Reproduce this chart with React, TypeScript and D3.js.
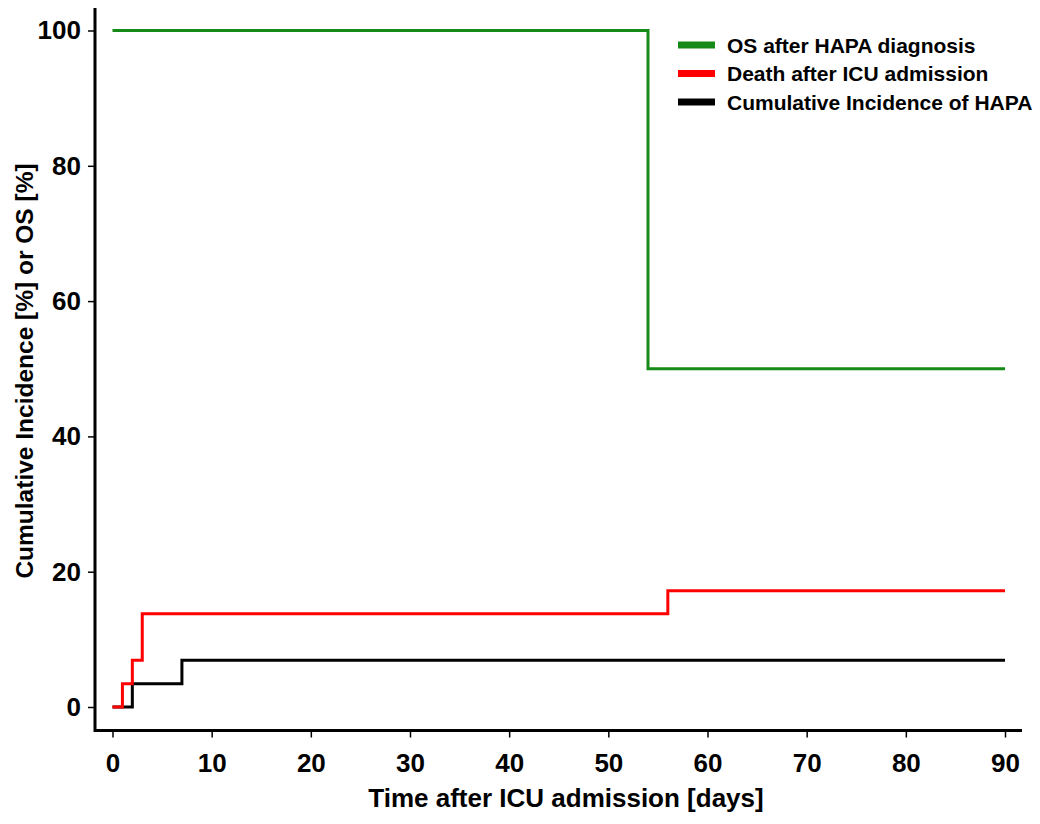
import React, { useEffect, useRef } from 'react';
import * as d3 from 'd3';

const xTicks = [0, 10, 20, 30, 40, 50, 60, 70, 80, 90];
const yTicks = [0, 20, 40, 60, 80, 100];

const osDays = [0, 54, 90];
const osValues = [100, 50, 50];
const deathDays = [0, 1, 2, 3, 56, 90];
const deathValues = [0, 3.45, 6.9, 13.8, 17.2, 17.2];
const hapaDays = [0, 2, 7, 90];
const hapaValues = [0, 3.45, 6.9, 6.9];

const seriesNames = ['OS after HAPA diagnosis', 'Death after ICU admission', 'Cumulative Incidence of HAPA'];
const seriesColors = ['#168a16', '#ff0000', '#000000'];

const FONT = '"Liberation Sans Narrow", "Arial Narrow", "Liberation Sans", Arial, sans-serif';

export default function App() {
  const svgRef = useRef<SVGSVGElement>(null);

  useEffect(() => {
    const svg = d3.select(svgRef.current);
    svg.selectAll('*').remove();

    const x = d3.scaleLinear().domain([0, 90]).range([112.5, 1005]);
    const y = d3.scaleLinear().domain([0, 100]).range([707, 30.5]);

    // x axis
    const xAxisG = svg.append('g').attr('transform', 'translate(0,730.5)');
    xAxisG.call(d3.axisBottom(x).tickValues(xTicks).tickSize(7).tickSizeOuter(0).tickPadding(16));
    xAxisG.select('.domain').attr('d', 'M95,0H1022').attr('stroke-width', 3);
    xAxisG.selectAll('.tick line').attr('stroke-width', 1.5);
    xAxisG.selectAll('text')
      .attr('font-family', FONT).attr('font-weight', 'bold').attr('font-size', 26).attr('fill', '#000');

    // y axis
    const yAxisG = svg.append('g').attr('transform', 'translate(95,0)');
    yAxisG.call(d3.axisLeft(y).tickValues(yTicks).tickSize(7).tickSizeOuter(0).tickPadding(7));
    yAxisG.select('.domain').attr('d', 'M0,8V732').attr('stroke-width', 3);
    yAxisG.selectAll('.tick line').attr('stroke-width', 1.5);
    yAxisG.selectAll('text')
      .attr('font-family', FONT).attr('font-weight', 'bold').attr('font-size', 26).attr('fill', '#000');

    const line = d3.line<[number, number]>()
      .x(d => x(d[0]))
      .y(d => y(d[1]))
      .curve(d3.curveStepAfter);

    const series = [
      { days: osDays, values: osValues, color: seriesColors[0] },
      { days: hapaDays, values: hapaValues, color: seriesColors[2] },
      { days: deathDays, values: deathValues, color: seriesColors[1] },
    ];
    series.forEach(s => {
      const pts = s.days.map((d, i) => [d, s.values[i]] as [number, number]);
      svg.append('path')
        .attr('d', line(pts))
        .attr('fill', 'none')
        .attr('stroke', s.color)
        .attr('stroke-width', 3);
    });

    // legend
    const legend = svg.append('g').attr('transform', 'translate(678,45)');
    seriesNames.forEach((name, i) => {
      const row = legend.append('g').attr('transform', `translate(0,${i * 28.5})`);
      row.append('line')
        .attr('x1', 0).attr('x2', 37).attr('y1', 0).attr('y2', 0)
        .attr('stroke', seriesColors[i]).attr('stroke-width', 7);
      row.append('text')
        .attr('x', 49).attr('y', 7.5)
        .attr('font-family', FONT).attr('font-weight', 'bold').attr('font-size', 21)
        .text(name);
    });

    svg.append('text')
      .attr('x', 566).attr('y', 807)
      .attr('text-anchor', 'middle')
      .attr('font-family', FONT).attr('font-weight', 'bold').attr('font-size', 26)
      .text('Time after ICU admission [days]');

    svg.append('text')
      .attr('transform', 'translate(33,371) rotate(-90)')
      .attr('text-anchor', 'middle')
      .attr('font-family', FONT).attr('font-weight', 'bold').attr('font-size', 24.5)
      .text('Cumulative Incidence [%] or OS [%]');
  }, []);

  return (
    <svg ref={svgRef} width={1040} height={824} style={{ position: 'absolute', left: 0, top: 0, background: '#fff' }} />
  );
}
